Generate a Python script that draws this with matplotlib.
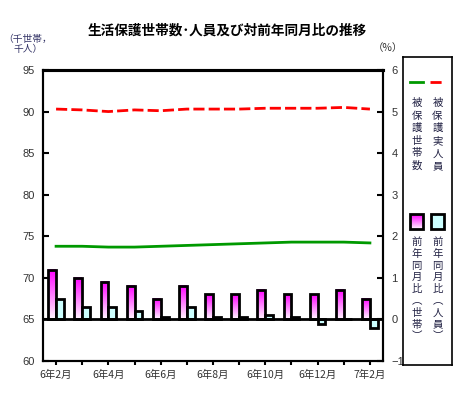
import numpy as np
import matplotlib.pyplot as plt
from matplotlib.patches import Rectangle

plt.rcParams['font.family'] = ['Liberation Sans', 'Noto Sans CJK JP', 'DejaVu Sans']
CJK = ['Noto Sans CJK JP', 'DejaVu Sans']

# 6年2月 ～ 7年2月
months = ['6年2月', '6年3月', '6年4月', '6年5月', '6年6月', '6年7月', '6年8月',
          '6年9月', '6年10月', '6年11月', '6年12月', '7年1月', '7年2月']
# 被保護世帯数 (千世帯), 被保護実人員 (千人)
setai = [73.8, 73.8, 73.7, 73.7, 73.8, 73.9, 74.0, 74.1, 74.2, 74.3, 74.3, 74.3, 74.2]
jinin = [90.3, 90.2, 90.0, 90.2, 90.1, 90.3, 90.3, 90.3, 90.4, 90.4, 90.4, 90.5, 90.3]
# 前年同月比 (%)
ratio_setai = [1.2, 1.0, 0.9, 0.8, 0.5, 0.8, 0.6, 0.6, 0.7, 0.6, 0.6, 0.7, 0.5]
ratio_jinin = [0.5, 0.3, 0.3, 0.2, 0.05, 0.3, 0.05, 0.05, 0.1, 0.05, -0.1, 0.0, -0.2]

GREEN = '#009900'
RED = '#ff0000'
CYAN = '#ccffff'
TXT = '#222244'
DASH = (0, (4, 1.5))

W, H = 463, 401
fig = plt.figure(figsize=(W / 100, H / 100), dpi=100)
ax = fig.add_axes([43 / W, 1 - 361 / H, 340 / W, 291 / H])
ax2 = ax.twinx()

x = np.arange(len(months))
ax.plot(x, setai, color=GREEN, lw=2, zorder=3)
ax.plot(x, jinin, color=RED, lw=2, ls=DASH, zorder=3)
ax.set_xlim(-0.5, len(months) - 0.5)
ax.set_ylim(60, 95)
ax.set_yticks(range(60, 96, 5))

# gradient for the 世帯 bars: magenta at top, almost white at bottom
grad = np.linspace(0, 1, 64)[:, None, None]
top = np.array([1.0, 0.0, 1.0])
bot = np.array([1.0, 0.96, 1.0])
img = top * (1 - grad) + bot * grad

w = 0.3
bars1 = ax2.bar(x - w / 2, ratio_setai, w, facecolor='none', edgecolor='black', lw=2, zorder=3)
for b in bars1:
    x0, y0, bw, bh = b.get_x(), b.get_y(), b.get_width(), b.get_height()
    ax2.imshow(img, extent=[x0, x0 + bw, y0, y0 + bh], aspect='auto', origin='upper', zorder=2)
ax2.bar(x + w / 2, ratio_jinin, w, facecolor=CYAN, edgecolor='black', lw=2, zorder=3)
ax2.axhline(0, color='black', lw=2, zorder=4)
ax2.set_xlim(-0.5, len(months) - 0.5)
ax2.set_ylim(-1, 6)
ax2.set_yticks(range(-1, 7))

ax.set_xticks(x)
ax.set_xticklabels([m if i % 2 == 0 else '' for i, m in enumerate(months)],
                   family=CJK, fontsize=7.5, color='#333333')
for a in (ax, ax2):
    a.tick_params(axis='y', direction='in', length=4, width=1.5, labelsize=8,
                  labelcolor='#333333', pad=6)
    a.tick_params(axis='x', direction='out', length=3, width=1.5, pad=3)
    for s in a.spines.values():
        s.set_linewidth(1.5)
    a.spines['top'].set_linewidth(2.2)

fig.text(227 / W, 1 - 31 / H, '生活保護世帯数･人員及び対前年同月比の推移', family=CJK,
         fontsize=9.8, fontweight='bold', ha='center', va='center')
fig.text(28 / W, 1 - 44 / H, '（千世帯，\n千人）', family=CJK, fontsize=7,
         ha='center', va='center', color='#333366', linespacing=0.95)
fig.text(388 / W, 1 - 48 / H, '（%）', family=CJK, fontsize=7.5, ha='center',
         va='center', color='#333333')

# legend panel in pixel coordinates
lax = fig.add_axes([403 / W, 1 - 365 / H, 49 / W, 308 / H], zorder=5)
lax.set_xticks([]); lax.set_yticks([])
for s in lax.spines.values():
    s.set_linewidth(1.2)
lax.plot([410, 423], [82, 82], color=GREEN, lw=2)
lax.plot([430, 444], [82, 82], color=RED, lw=2, ls=DASH)
lax.imshow(img, extent=[410, 423, 229, 214], aspect='auto', origin='upper', zorder=2)
lax.add_patch(Rectangle((410, 214), 13, 15, facecolor='none', edgecolor='black', lw=2, zorder=3))
lax.add_patch(Rectangle((431, 214), 13, 15, facecolor=CYAN, edgecolor='black', lw=2, zorder=3))
lax.set_xlim(403, 452)
lax.set_ylim(365, 57)

for cx, label, y0, step in [(416.5, '被保護世帯数', 98, 12.6), (437.5, '被保護実人員', 98, 12.6),
                            (416.5, '前年同月比︵世帯︶', 237, 11.8),
                            (437.5, '前年同月比︵人員︶', 237, 11.8)]:
    for k, ch in enumerate(label):
        lax.text(cx, y0 + k * step, ch, family=CJK, fontsize=7.5, ha='center', va='top',
                 color=TXT)

fig.savefig('out.png', dpi=100)
